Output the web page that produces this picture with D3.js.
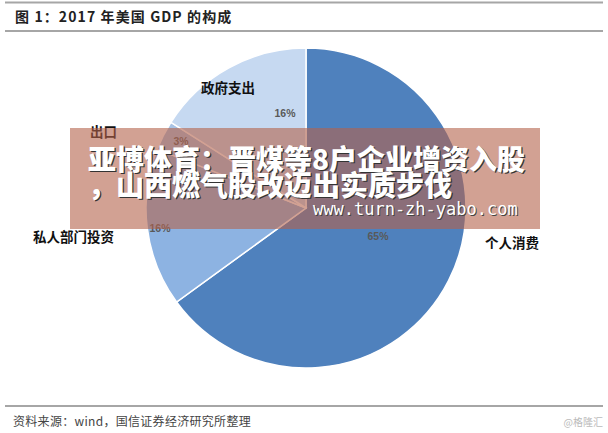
<!DOCTYPE html>
<html><head><meta charset="utf-8">
<script src="https://cdn.jsdelivr.net/npm/d3@7"></script>
<style>
html,body{margin:0;padding:0;background:#fff;}
svg{display:block;}
</style></head>
<body>
<svg id="c" width="608" height="433"></svg>
<script>
// ---- data ----
const categories = ["个人消费", "私人部门投资", "出口", "政府支出"];
const shares = [65, 16, 3, 16];
const pctLabels = ["65%", "16%", "3%", "16%"];
const titleText = "图 1：2017 年美国 GDP 的构成";
const sourceText = "资料来源：wind，国信证券经济研究所整理";
const brandText = "@格隆汇";
const bannerLines = ["亚博体育：晋煤等8户企业增资入股", "，山西燃气股改迈出实质步伐"];
const bannerUrl = "www.turn-zh-yabo.com";

// ---- styles / layout ----
const sliceColors = ["#4F81BD", "#8DB3E2", "#A9C3E4", "#C6D9F1"];
const catLabelPos = [[485, 248, "start"], [33, 242, "start"], [90, 137, "start"], [228, 93, "middle"]];
const pctLabelPos = [[378, 240], [160, 232], [181, 145], [285, 117]];

const svg = d3.select("#c");
const cjk = "'Noto Sans CJK SC','Noto Sans',sans-serif";

// frame lines
[2.5, 31, 406].forEach(y => {
  svg.append("line").attr("x1", 5).attr("x2", 603).attr("y1", y).attr("y2", y)
    .attr("stroke", "#a6a6a6").attr("stroke-width", 2);
});

svg.append("text").attr("x", 15).attr("y", 22).attr("font-family", cjk).attr("font-weight", 700)
  .attr("font-size", 14).attr("letter-spacing", 1.1).attr("fill", "#222").text(titleText);
svg.append("text").attr("x", 13).attr("y", 426).attr("font-family", cjk)
  .attr("font-size", 12).attr("letter-spacing", 0.3).attr("fill", "#444").text(sourceText);
svg.append("text").attr("x", 603).attr("y", 426).attr("text-anchor", "end").attr("font-family", cjk)
  .attr("font-size", 10).attr("fill", "#bbb").text(brandText);

// pie
const cx = 306, cy = 208, R = 160;
const pie = d3.pie().sort(null).value(d => d)(shares);
const arc = d3.arc().innerRadius(0).outerRadius(R);
const color = d3.scaleOrdinal().domain(categories).range(sliceColors);
const g = svg.append("g").attr("transform", `translate(${cx},${cy})`);
g.selectAll("path").data(pie).join("path")
  .attr("d", arc)
  .attr("fill", (d, i) => color(categories[i]))
  .attr("stroke", "#fff").attr("stroke-width", 1.5);

// labels
svg.selectAll("text.cat").data(categories).join("text").attr("class", "cat")
  .attr("x", (d, i) => catLabelPos[i][0]).attr("y", (d, i) => catLabelPos[i][1])
  .attr("text-anchor", (d, i) => catLabelPos[i][2])
  .attr("font-family", cjk).attr("font-weight", 700).attr("font-size", 13.5)
  .attr("fill", "#111").text(d => d);
svg.selectAll("text.pct").data(pctLabels).join("text").attr("class", "pct")
  .attr("x", (d, i) => pctLabelPos[i][0]).attr("y", (d, i) => pctLabelPos[i][1])
  .attr("text-anchor", "middle")
  .attr("font-family", "'Liberation Sans',Arial,sans-serif").attr("font-weight", 700).attr("font-size", 10.5)
  .attr("fill", "#595959").text(d => d);

// overlay banner
svg.append("rect").attr("x", 70).attr("y", 128).attr("width", 470).attr("height", 101)
  .attr("fill", "rgb(180,98,75)").attr("fill-opacity", 0.6);
const bl = svg.append("g");
const lineY = [170, 196];
bannerLines.forEach((t, i) => {
  bl.append("text").attr("x", 89.2).attr("y", lineY[i] + 1.2).attr("font-family", cjk).attr("font-weight", 900)
    .attr("font-size", 28).attr("fill", "#333").text(t);
  bl.append("text").attr("x", 88).attr("y", lineY[i]).attr("font-family", cjk).attr("font-weight", 900)
    .attr("font-size", 28).attr("fill", "#fff").text(t);
});
bl.append("text").attr("x", 314).attr("y", 216).attr("font-family", "'DejaVu Sans Mono',monospace")
  .attr("font-size", 17).attr("fill", "#444").text(bannerUrl);
bl.append("text").attr("x", 313).attr("y", 215).attr("font-family", "'DejaVu Sans Mono',monospace")
  .attr("font-size", 17).attr("fill", "#fff").text(bannerUrl);
</script>
</body></html>
